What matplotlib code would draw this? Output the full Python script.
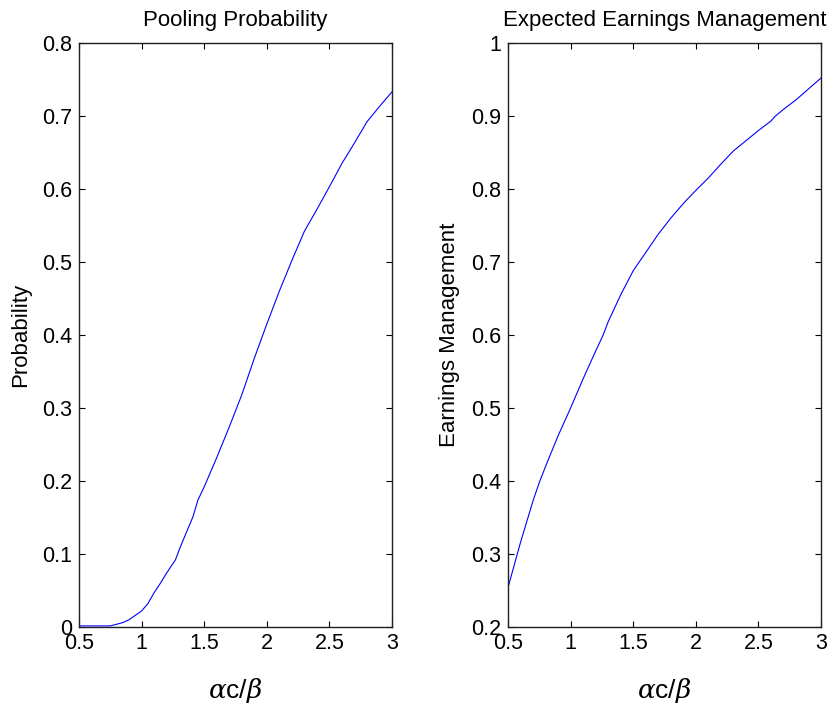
import matplotlib
matplotlib.use("Agg")
import matplotlib.pyplot as plt

plt.rcParams['font.family'] = ['Liberation Sans', 'DejaVu Sans']
plt.rcParams['mathtext.fontset'] = 'custom'
plt.rcParams['mathtext.it'] = 'DejaVu Serif:italic'

x_left = [0.5, 0.6, 0.75, 0.85, 0.9, 1.0, 1.05, 1.1, 1.15, 1.2, 1.27, 1.31, 1.41, 1.45, 1.5,
          1.6, 1.7, 1.8, 1.9, 2.0, 2.1, 2.2, 2.3, 2.4, 2.5, 2.6, 2.7, 2.8, 2.9, 3.0]
pooling_prob = [0.0015, 0.0015, 0.0015, 0.006, 0.010, 0.022, 0.032, 0.047, 0.060, 0.074, 0.092,
                0.110, 0.151, 0.174, 0.192, 0.232, 0.274, 0.318, 0.368, 0.415, 0.460, 0.502,
                0.542, 0.572, 0.603, 0.635, 0.663, 0.692, 0.713, 0.733]

x_right = [0.5, 0.6, 0.7, 0.75, 0.8, 0.9, 1.0, 1.1, 1.2, 1.26, 1.3, 1.4, 1.5, 1.6, 1.7,
           1.8, 1.9, 2.0, 2.1, 2.2, 2.3, 2.4, 2.5, 2.6, 2.63, 2.7, 2.8, 2.9, 3.0]
earn_mgmt = [0.254, 0.316, 0.373, 0.398, 0.420, 0.462, 0.500, 0.540, 0.578, 0.600, 0.618,
             0.655, 0.688, 0.713, 0.738, 0.760, 0.780, 0.798, 0.815, 0.834, 0.852, 0.866, 0.880,
             0.893, 0.899, 0.909, 0.922, 0.937, 0.952]

xticks = [0.5, 1, 1.5, 2, 2.5, 3]
xticklabels = ['0.5', '1', '1.5', '2', '2.5', '3']
yticks_left = [0, 0.1, 0.2, 0.3, 0.4, 0.5, 0.6, 0.7, 0.8]
yticklabels_left = ['0', '0.1', '0.2', '0.3', '0.4', '0.5', '0.6', '0.7', '0.8']
yticks_right = [0.2, 0.3, 0.4, 0.5, 0.6, 0.7, 0.8, 0.9, 1.0]
yticklabels_right = ['0.2', '0.3', '0.4', '0.5', '0.6', '0.7', '0.8', '0.9', '1']

fig = plt.figure(figsize=(8.29, 7.08), dpi=100)
ax1 = fig.add_axes([0.0953, 0.1144, 0.3776, 0.825])
ax2 = fig.add_axes([0.6128, 0.1144, 0.3776, 0.825])

xlabel = r'$\alpha$c/$\beta$'

for ax, xs, y, yt, ytl, ylim, title, ylabel in [
    (ax1, x_left, pooling_prob, yticks_left, yticklabels_left, (0, 0.8),
     'Pooling Probability', 'Probability'),
    (ax2, x_right, earn_mgmt, yticks_right, yticklabels_right, (0.2, 1.0),
     'Expected Earnings Management', 'Earnings Management'),
]:
    ax.plot(xs, y, color='#0000ff', linewidth=0.8)
    ax.set_xlim(0.5, 3)
    ax.set_ylim(*ylim)
    ax.set_xticks(xticks)
    ax.set_xticklabels(xticklabels)
    ax.set_yticks(yt)
    ax.set_yticklabels(ytl)
    ax.tick_params(direction='in', top=True, right=True, length=4, width=0.8,
                   labelsize=15.5)
    ax.tick_params(axis='y', pad=5)
    ax.tick_params(axis='x', pad=4)
    for s in ax.spines.values():
        s.set_linewidth(1.0)
        s.set_color('#202020')
    ax.set_title(title, fontsize=16, pad=12)
    ax.set_ylabel(ylabel, fontsize=16, labelpad=8)
    ax.set_xlabel(xlabel, fontsize=19, labelpad=16)

fig.savefig('out.png', dpi=100)
